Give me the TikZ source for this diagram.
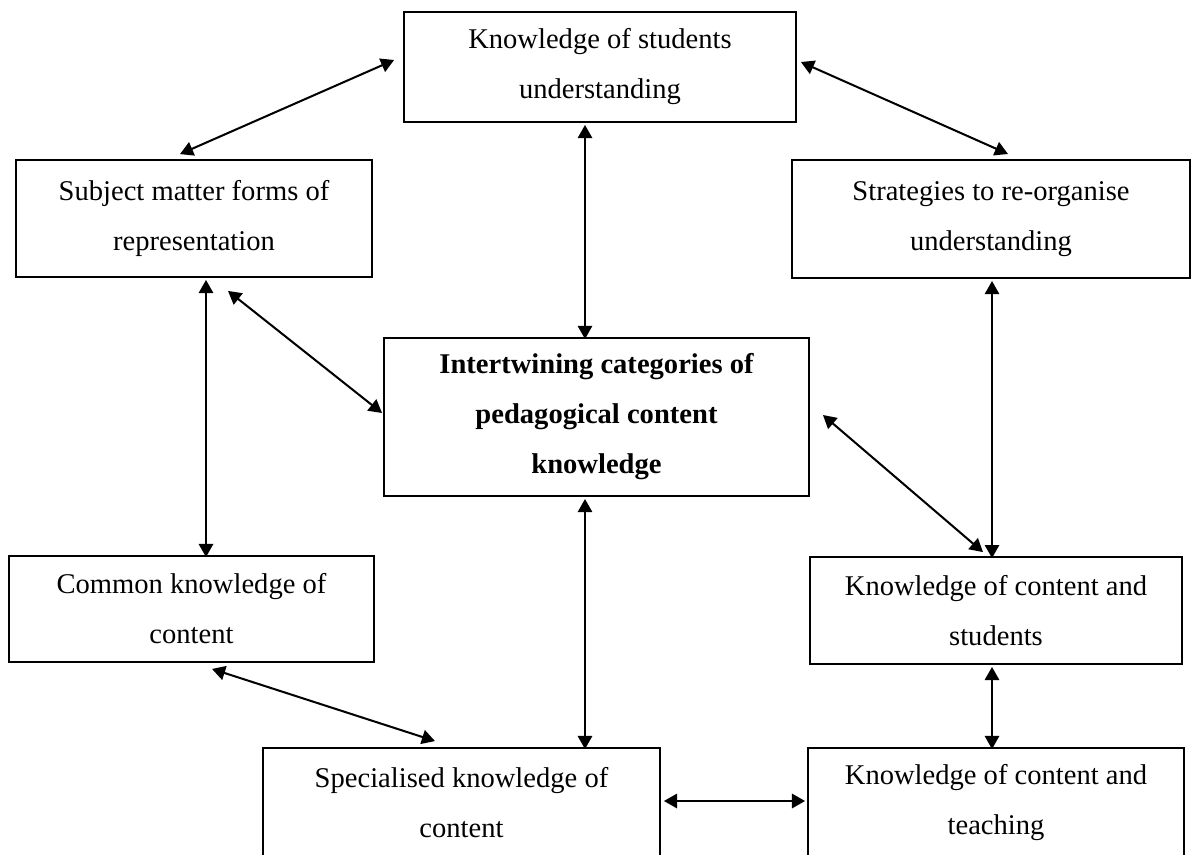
\documentclass[tikz,border=0pt]{standalone}
\usepackage{fontspec}
\setmainfont{Liberation Serif}
\usepackage{tikz}
\usetikzlibrary{arrows.meta}
\usetikzlibrary{positioning}

\begin{document}
\begin{tikzpicture}[x=0.42pt, y=-0.42pt,
  kbox/.style={draw, line width=0.8pt, align=center, inner sep=0pt, font=\fontsize{12}{21}\selectfont},
  link/.style={line width=0.85pt, {Triangle[length=5.5pt,width=6pt]}-{Triangle[length=5.5pt,width=6pt]}}]
%\draw [help lines, step=50](0,0) grid (1195,854);
\useasboundingbox (0,0) rectangle (1195,854);

\node[kbox, minimum width=164.6pt, minimum height=46.2pt] (ksu) at (600,67) {Knowledge of students\\understanding};
\node[kbox, minimum width=149.5pt, minimum height=49.1pt] (smf) at (194,218.5) {Subject matter forms of\\representation};
\node[kbox, minimum width=167.2pt, minimum height=49.6pt] (str) at (991,219) {Strategies to re-organise\\understanding};
\node[kbox, minimum width=178.5pt, minimum height=66.4pt, font=\fontsize{12}{21}\selectfont\bfseries] (icp) at (596.5,417) {Intertwining categories of\\pedagogical content\\knowledge};
\node[kbox, minimum width=153.3pt, minimum height=44.5pt] (ckc) at (191.5,609) {Common knowledge of\\content};
\node[kbox, minimum width=156.2pt, minimum height=44.9pt] (kcs) at (996,610.5) {Knowledge of content and\\students};
\node[kbox, minimum width=166.7pt, minimum height=46.2pt] (skc) at (461.5,803) {Specialised knowledge of\\content};
\node[kbox, minimum width=157.9pt, minimum height=46.2pt] (kct) at (996,803) {Knowledge of content and\\teaching};

% top part
\draw [link] ([shift={(-9,-7)}]ksu.west) -- ([shift={(-14,-5)}]smf.north);
\draw [link] ([shift={(4,-5)}]ksu.east) -- ([shift={(17,-5)}]str.north);
\draw [link] ([shift={(-15,2)}]ksu.south) -- ([shift={(-15,2)}]ksu.south |- icp.north);
\draw [link] ([shift={(34,13)}]smf.south) -- ([shift={(-1,-4)}]icp.west);

% sides
\draw [link] ([shift={(12,2)}]smf.south) -- ([shift={(12,2)}]smf.south |- ckc.north);
\draw [link] ([shift={(1,2)}]str.south) -- ([shift={(1,2)}]str.south |- kcs.north);
\draw [link] ([shift={(13,-2)}]icp.east) -- ([shift={(-13,-4)}]kcs.north);

% bottom part
\draw [link] ([shift={(-11.5,2)}]icp.south) -- ([shift={(-11.5,2)}]icp.south |- skc.north);
\draw [link] ([shift={(20.5,6)}]ckc.south) -- ([shift={(-26.5,-6)}]skc.north);
\draw [link] ([shift={(-4,2)}]kcs.south) -- ([shift={(-4,2)}]kcs.south |- kct.north);
\draw [link] ([shift={(3,-2)}]skc.east) -- ([shift={(-2,-2)}]kct.west);

\end{tikzpicture}
\end{document}
